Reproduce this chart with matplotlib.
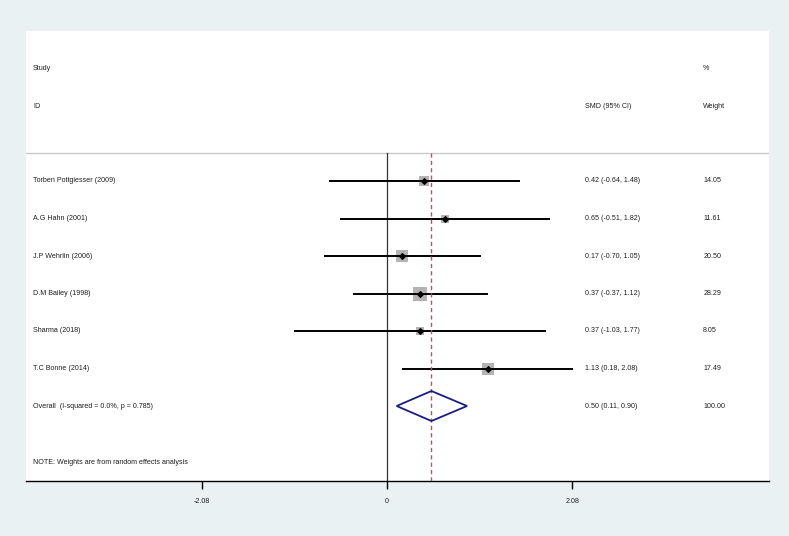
import numpy as np
import matplotlib
matplotlib.use("Agg")
import matplotlib.pyplot as plt

plt.rcParams['font.family'] = ['Liberation Sans', 'DejaVu Sans']

# data
studies = ["Torben Pottgiesser (2009)", "A.G Hahn (2001)", "J.P Wehrlin (2006)",
           "D.M Bailey (1998)", "Sharma (2018)", "T.C Bonne (2014)"]
smd = np.array([0.42, 0.65, 0.17, 0.37, 0.37, 1.13])
lo = np.array([-0.64, -0.51, -0.70, -0.37, -1.03, 0.18])
hi = np.array([1.48, 1.82, 1.05, 1.12, 1.77, 2.08])
weights = np.array([14.05, 11.61, 20.50, 28.29, 8.05, 17.49])
overall = (0.50, 0.11, 0.90)
overall_label = "Overall  (I-squared = 0.0%, p = 0.785)"
note = "NOTE: Weights are from random effects analysis"
xticks = [-2.08, 0, 2.08]

bg = '#e9f1f3'
txt = '#1e1e1e'
fig = plt.figure(figsize=(7.89, 5.36), dpi=100, facecolor=bg)
ax = fig.add_axes([25.5 / 789, 55 / 536, 743.5 / 789, 450 / 536])
ax.set_facecolor('white')

xmin, xmax = -4.056, 4.289
ax.set_xlim(xmin, xmax)
ax.set_ylim(0, 12)

rows = np.arange(8, 8 - len(studies), -1)
fs = 5.1

# header
ax.text(-3.97, 11, "Study", fontsize=fs, va='center', color=txt)
ax.text(-3.97, 10, "ID", fontsize=fs, va='center', color=txt)
ax.text(2.22, 10, "SMD (95% CI)", fontsize=fs, va='center', color=txt)
ax.text(3.55, 11, "%", fontsize=fs, va='center', color=txt)
ax.text(3.55, 10, "Weight", fontsize=fs, va='center', color=txt)
ax.axhline(8.75, color='#c8c8c8', lw=1)

# reference lines
ax.plot([0, 0], [0, 8.75], color='#333333', lw=0.9, zorder=2)
ax.plot([overall[0], overall[0]], [0, 8.75], color='#c0505a', lw=1,
        ls=(0, (3, 2.3)), zorder=4)

# studies
for i in range(len(studies)):
    y = rows[i]
    ax.plot([lo[i], hi[i]], [y, y], color='black', lw=1.4, zorder=3)
    ax.scatter(smd[i], y, marker='s', s=weights[i] * 3.6, color='#b3b3b3',
               zorder=2.5, linewidths=0)
    ax.scatter(smd[i], y, marker='D', s=8, color='black', zorder=5)
    ax.text(-3.97, y, studies[i], fontsize=fs, va='center', color=txt)
    ax.text(2.22, y, "%.2f (%.2f, %.2f)" % (smd[i], lo[i], hi[i]),
            fontsize=fs, va='center', color=txt)
    ax.text(3.55, y, "%.2f" % weights[i], fontsize=fs, va='center', color=txt)

# overall diamond
yo = 2
dh = 0.4
ax.fill([overall[1], overall[0], overall[2], overall[0], overall[1]],
        [yo, yo + dh, yo, yo - dh, yo], facecolor='none', edgecolor='#1c1c80',
        lw=1.3, zorder=6)
ax.text(-3.97, yo, overall_label, fontsize=fs, va='center', color=txt)
ax.text(2.22, yo, "%.2f (%.2f, %.2f)" % overall, fontsize=fs, va='center',
        color=txt)
ax.text(3.55, yo, "100.00", fontsize=fs, va='center', color=txt)
ax.text(-3.97, 0.48, note, fontsize=fs, va='center', color=txt)

for s in ['top', 'left', 'right']:
    ax.spines[s].set_visible(False)
ax.spines['bottom'].set_color('black')
ax.spines['bottom'].set_linewidth(1)
ax.set_yticks([])
ax.set_xticks(xticks)
ax.set_xticklabels(["%.2f" % t if t != 0 else "0" for t in xticks])
ax.tick_params(axis='x', length=6, width=1, labelsize=fs, pad=6,
               labelcolor=txt)

fig.savefig("out.png", dpi=100, facecolor=bg)
